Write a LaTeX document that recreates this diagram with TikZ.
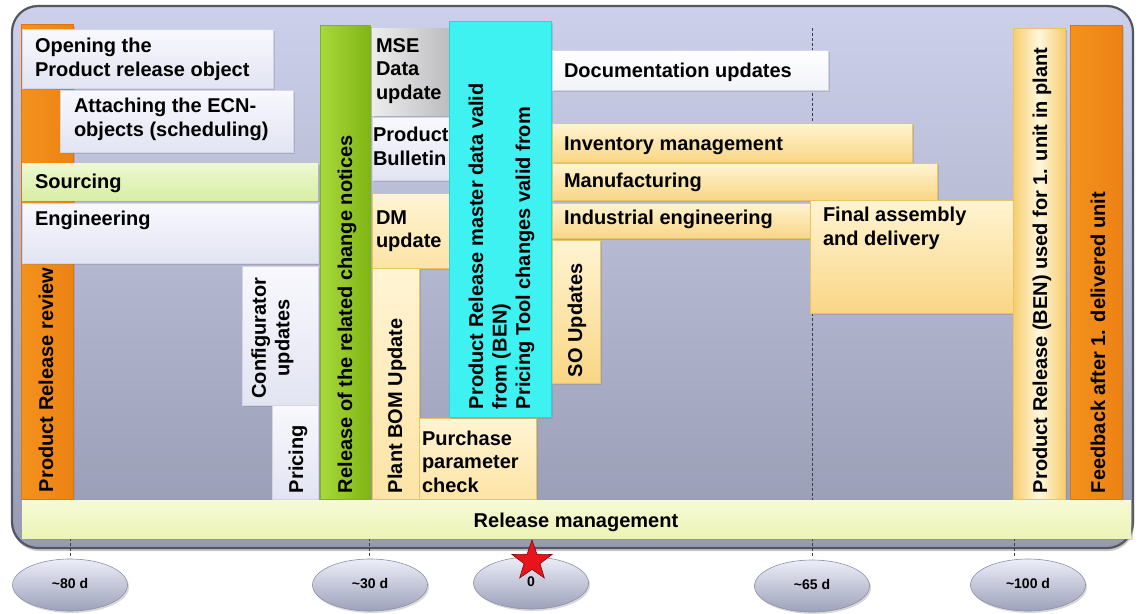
\documentclass[tikz,border=0pt]{standalone}
\usepackage{fontspec}
\setmainfont{Liberation Sans}
\usetikzlibrary{shapes.geometric,shadows}

% palette
\definecolor{frameTop}{HTML}{CDD0EA}
\definecolor{frameBot}{HTML}{979BB2}
\definecolor{frameEdge}{HTML}{55565F}
\definecolor{lavTop}{HTML}{F8F8FD}
\definecolor{lavBot}{HTML}{E2E4F2}
\definecolor{lavEdge}{HTML}{D3D5E6}
\definecolor{whiteBot}{HTML}{F2F3F8}
\definecolor{yelTop}{HTML}{FFF4D2}
\definecolor{yelBot}{HTML}{F9D685}
\definecolor{yelEdge}{HTML}{E8C466}
\definecolor{paleTop}{HTML}{FFF4D4}
\definecolor{paleBot}{HTML}{FDE4A6}
\definecolor{srcTop}{HTML}{EEF8D2}
\definecolor{srcBot}{HTML}{D8EEA4}
\definecolor{rmTop}{HTML}{F6FAD6}
\definecolor{rmBot}{HTML}{EDF4B6}
\definecolor{orangeLeft}{HTML}{F4921D}
\definecolor{orangeRight}{HTML}{EC8214}
\definecolor{orangeEdge}{HTML}{DC7410}
\definecolor{greenLeft}{HTML}{A9D93C}
\definecolor{greenRight}{HTML}{80B514}
\definecolor{cyanFill}{HTML}{3FF2F2}
\definecolor{cyanEdge}{HTML}{2AD3DC}
\definecolor{mseLeft}{HTML}{EDEDED}
\definecolor{mseRight}{HTML}{BDBDC0}
\definecolor{benEdge}{HTML}{F5CD6E}
\definecolor{benMid}{HTML}{FFF7DC}
\definecolor{ovalTop}{HTML}{ECEEF8}
\definecolor{ovalBot}{HTML}{9DA1BA}
\definecolor{ovalEdge}{HTML}{8C90A8}
\definecolor{starRed}{HTML}{E8141C}
\definecolor{starEdge}{HTML}{7A0A0A}
\definecolor{tickGray}{HTML}{3C3C44}

% a filled bar given by its name, corners and style
\newcommand{\chartbox}[6]{%
  \node[#6, minimum width={(#4)-(#2)}, minimum height={(#5)-(#3)}] (#1) at (#2,#3) {};}

\tikzset{
  lbl/.style={font=\bfseries\fontsize{20}{23.5}\selectfont, inner sep=0pt, outer sep=0pt, text=black},
  hlbl/.style={lbl, anchor=base west},
  mlbl/.style={lbl, anchor=north west, align=left},
  vlbl/.style={lbl, rotate=90, anchor=base west},
  box/.style={rectangle, inner sep=0pt, outer sep=0pt, anchor=north west,
    drop shadow={shadow xshift=1.5pt, shadow yshift=-2pt, opacity=0.3}},
  lavbox/.style={box, top color=lavTop, bottom color=lavBot, draw=lavEdge, line width=0.5pt},
  whitebox/.style={box, top color=white, bottom color=whiteBot, draw=lavEdge, line width=0.5pt},
  yelbox/.style={box, top color=yelTop, bottom color=yelBot, draw=yelEdge, line width=0.6pt},
  palebox/.style={box, top color=paleTop, bottom color=paleBot, draw=yelEdge, line width=0.5pt},
  srcbox/.style={box, top color=srcTop, bottom color=srcBot, draw=none},
  rmbox/.style={box, top color=rmTop, bottom color=rmBot, draw=none},
  orangebar/.style={box, left color=orangeLeft, right color=orangeRight, draw=orangeEdge, line width=0.6pt},
  greenbar/.style={box, left color=greenLeft, right color=greenRight, draw=greenRight, line width=0.5pt},
  cyanbox/.style={box, fill=cyanFill, draw=cyanEdge, line width=0.6pt},
  msebox/.style={box, left color=mseLeft, right color=mseRight, draw=none},
  benbar/.style={box, left color=benEdge, right color=benEdge, middle color=benMid, draw=yelEdge, line width=0.5pt},
  oval/.style={ellipse, minimum width=115pt, minimum height=52pt, inner sep=0pt,
    top color=ovalTop, bottom color=ovalBot, draw=ovalEdge, line width=0.6pt,
    drop shadow={shadow xshift=1.5pt, shadow yshift=-2pt, opacity=0.3},
    font=\bfseries\fontsize{14}{16}\selectfont},
  tick/.style={draw=tickGray, line width=0.9pt, dash pattern=on 3pt off 2pt},
}

\begin{document}
\begin{tikzpicture}[x=1pt, y=-1pt]
\useasboundingbox (0,0) rectangle (1139,613);

% outer frame
\node[rectangle, inner sep=0pt, outer sep=0pt, anchor=north west, rounded corners=26pt,
  minimum width=1121pt, minimum height=542pt, top color=frameTop, bottom color=frameBot,
  draw=frameEdge, line width=2.2pt,
  drop shadow={shadow xshift=1pt, shadow yshift=-3pt, opacity=0.45}] (frame) at (12,6) {};

% time marks
\foreach \n/\x in {t80/70, t30/369, t65/812, t100/1014}{
  \coordinate (\n top) at (\x,28);
  \coordinate (\n bot) at (\x,558);
  \draw[tick] (\n top) -- (\n bot);
}

% left column
\chartbox{review}{21}{24}{73}{499}{orangebar}
\chartbox{opening}{22}{29}{273}{88}{lavbox}
\chartbox{attaching}{60}{90}{293}{152}{lavbox}
\chartbox{sourcing}{22}{163}{318}{200}{srcbox}
\chartbox{engineering}{22}{203}{318}{263}{lavbox}
\chartbox{configurator}{242}{266}{318}{405}{lavbox}
\chartbox{pricing}{272}{405}{318}{499}{lavbox}
\chartbox{changenotices}{320}{25}{370}{499}{greenbar}

% middle column
\chartbox{mse}{372}{28}{449}{115}{msebox}
\chartbox{bulletin}{372}{117}{449}{180}{lavbox}
\chartbox{dm}{372}{193}{449}{268}{palebox}
\chartbox{plantbom}{372}{268}{419}{499}{palebox}
\chartbox{purchase}{419}{418}{536}{499}{palebox}
\chartbox{masterdata}{449}{21}{551}{417}{cyanbox}

% right column
\chartbox{documentation}{552}{50}{828}{90}{whitebox}
\chartbox{inventory}{552}{123}{912}{162}{yelbox}
\chartbox{manufacturing}{552}{163}{937}{200}{yelbox}
\chartbox{industrial}{552}{203}{830}{238}{yelbox}
\chartbox{finalassembly}{810}{200}{1013}{313}{yelbox}
\chartbox{soupdates}{552}{240}{600}{383}{yelbox}
\chartbox{benplant}{1013}{28}{1065}{499}{benbar}
\chartbox{feedback}{1070}{25}{1122}{499}{orangebar}

% release management strip
\chartbox{releasemgmt}{22}{500}{1131}{538}{rmbox}

% horizontal labels
\node[mlbl] (opening text) at (35,38.5) {Opening the\\Product release object};
\node[mlbl] (attaching text) at (74,98.5) {Attaching the ECN-\\objects (scheduling)};
\node[hlbl] (sourcing text) at (35,188) {Sourcing};
\node[hlbl] (engineering text) at (35,225) {Engineering};
\node[mlbl] (mse text) at (376,38.5) {MSE\\Data\\update};
\node[mlbl] (bulletin text) at (373,127.5) {Product\\Bulletin};
\node[mlbl] (dm text) at (376,210.5) {DM\\update};
\node[mlbl] (purchase text) at (422,430.5) {Purchase\\parameter\\check};
\node[hlbl] (documentation text) at (564,77) {Documentation updates};
\node[hlbl] (inventory text) at (564,150) {Inventory management};
\node[hlbl] (manufacturing text) at (564,187) {Manufacturing};
\node[hlbl] (industrial text) at (564,224) {Industrial engineering};
\node[mlbl] (finalassembly text) at (823,207.5) {Final assembly\\and delivery};
\node[lbl, anchor=base] (releasemgmt text) at (576,527) {Release management};

% vertical labels
\node[vlbl] (review text) at (53,492) {Product Release review};
\node[lbl, rotate=90, anchor=north, align=center] (configurator text) at (251.5,338) {Configurator\\updates};
\node[vlbl] (pricing text) at (303,493) {Pricing};
\node[vlbl] (changenotices text) at (352,493) {Release of the related change notices};
\node[vlbl] (plantbom text) at (402,493) {Plant BOM Update};
\node[lbl, rotate=90, anchor=north west, align=left] (masterdata text) at (468.5,409)
  {Product Release master data valid\\from (BEN)\\Pricing Tool changes valid from};
\node[vlbl] (soupdates text) at (582,377) {SO Updates};
\node[vlbl] (benplant text) at (1047,493) {Product Release (BEN) used for 1. unit in plant};
\node[vlbl] (feedback text) at (1105,493) {Feedback after 1. delivered unit};

% time axis
\node[oval] (d80) at (70,585) {\raisebox{3pt}{\textasciitilde 80 d}};
\node[oval] (d30) at (370,585) {\raisebox{3pt}{\textasciitilde 30 d}};
\node[oval] (d0) at (531,583) {\raisebox{3pt}{0}};
\node[oval] (d65) at (812,586) {\raisebox{3pt}{\textasciitilde 65 d}};
\node[oval] (d100) at (1028,585) {\raisebox{3pt}{\textasciitilde 100 d}};

% start marker
\node[star, star points=5, star point ratio=2.5, minimum size=42pt, inner sep=0pt,
  fill=starRed, draw=starEdge, line width=0.6pt] (startstar) at (532,561) {};
\end{tikzpicture}
\end{document}
